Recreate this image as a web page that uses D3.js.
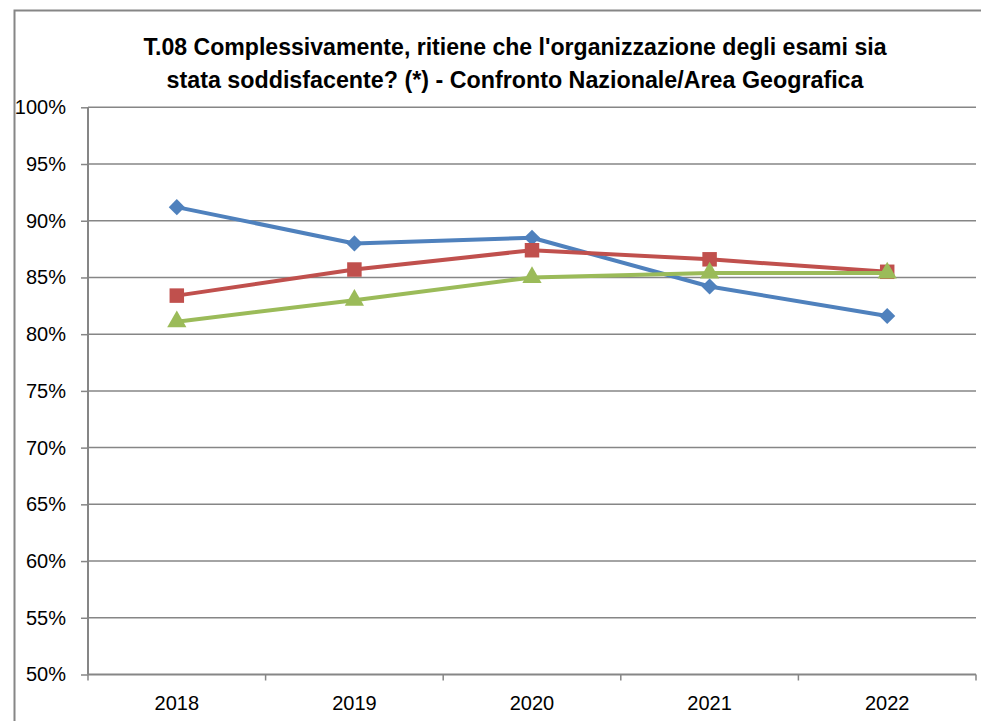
<!DOCTYPE html>
<html>
<head>
<meta charset="utf-8">
<script src="https://cdn.jsdelivr.net/npm/d3@7"></script>
<style>
  body { margin: 0; background: #fff; }
  svg { display: block; }
</style>
</head>
<body>
<svg id="chart"></svg>
<script>
(function(){
    "use strict";

    // data
    var years = ["2018", "2019", "2020", "2021", "2022"];
    var serieBlu   = [91.2, 88.0, 88.5, 84.2, 81.6];
    var serieRossa = [83.4, 85.7, 87.4, 86.6, 85.5];
    var serieVerde = [81.1, 83.0, 85.0, 85.4, 85.4];
    var yTicks = [50, 55, 60, 65, 70, 75, 80, 85, 90, 95, 100];
    var titleLines = [
        "T.08 Complessivamente, ritiene che l'organizzazione degli esami sia",
        "stata soddisfacente? (*) - Confronto Nazionale/Area Geografica"
    ];

    var width = 981,
        height = 721,
        left = 88,
        right = 976,
        top = 107.3,
        bottom = 674.5,
        font = "'Liberation Sans', Arial, sans-serif",
        grey = "#868686";

    var svg = d3.select("svg#chart")
        .attr("width", width)
        .attr("height", height);

    // outer frame (only left and top visible)
    svg.append("path")
        .attr("d", "M14.5," + height + "V10.5H" + width)
        .attr("fill", "none")
        .attr("stroke", grey)
        .attr("stroke-width", 2);

    // title
    var titleLen = [743, 697];
    svg.selectAll("text.title")
        .data(titleLines)
        .enter().append("text")
        .attr("class", "title")
        .attr("x", 515)
        .attr("y", function(d, i) { return 55 + i * 33.3; })
        .attr("text-anchor", "middle")
        .attr("textLength", function(d, i) { return titleLen[i]; })
        .attr("lengthAdjust", "spacingAndGlyphs")
        .style("font-family", font)
        .style("font-weight", "bold")
        .style("font-size", "23px")
        .style("fill", "#000")
        .text(function(d) { return d; });

    var x = d3.scaleBand()
        .domain(years)
        .range([left, right]);

    var y = d3.scaleLinear()
        .domain([50, 100])
        .range([bottom, top]);

    // gridlines
    svg.append("g")
        .selectAll("line")
        .data(yTicks.slice(1))
        .enter().append("line")
        .attr("x1", left)
        .attr("x2", right)
        .attr("y1", function(d) { return y(d); })
        .attr("y2", function(d) { return y(d); })
        .attr("stroke", grey)
        .attr("stroke-width", 1.5);

    // y axis
    var yAxis = svg.append("g")
        .attr("transform", "translate(" + left + ",0)")
        .call(d3.axisLeft(y)
            .tickValues(yTicks)
            .tickSize(7)
            .tickPadding(15)
            .tickFormat(function(d) { return d + "%"; }));

    // x axis
    var xAxis = svg.append("g")
        .attr("transform", "translate(0," + bottom + ")")
        .call(d3.axisBottom(x).tickSize(0).tickPadding(0));

    // tick marks between categories
    xAxis.selectAll("line.sep")
        .data(d3.range(years.length + 1))
        .enter().append("line")
        .attr("class", "sep")
        .attr("x1", function(i) { return left + i * x.step(); })
        .attr("x2", function(i) { return left + i * x.step(); })
        .attr("y1", 0)
        .attr("y2", 6)
        .attr("stroke", grey)
        .attr("stroke-width", 1.5);

    [yAxis, xAxis].forEach(function(ax) {
        ax.select(".domain").attr("stroke", grey).attr("stroke-width", 2);
        ax.selectAll(".tick line").attr("stroke", grey).attr("stroke-width", 1.5);
        ax.selectAll(".tick text")
            .style("font-family", font)
            .style("font-size", "20px")
            .style("fill", "#000");
    });
    yAxis.select(".domain").attr("d", "M0," + top + "V" + bottom);
    xAxis.select(".domain").attr("d", "M" + left + ",0H" + right);
    xAxis.selectAll(".tick text").attr("y", 35).attr("dy", 0);

    // series
    var series = [
        {name: "blu", values: serieBlu, color: "#4F81BD", symbol: d3.symbolSquare, size: 130, rotate: 45},
        {name: "rossa", values: serieRossa, color: "#C0504D", symbol: d3.symbolSquare, size: 210, rotate: 0},
        {name: "verde", values: serieVerde, color: "#9BBB59", symbol: d3.symbolTriangle, size: 160, rotate: 0}
    ];

    var line = d3.line()
        .x(function(d, i) { return x(years[i]) + x.bandwidth() / 2; })
        .y(function(d) { return y(d); });

    var g = svg.selectAll("g.serie")
        .data(series)
        .enter().append("g")
        .attr("class", "serie");

    g.append("path")
        .attr("d", function(d) { return line(d.values); })
        .attr("fill", "none")
        .attr("stroke", function(d) { return d.color; })
        .attr("stroke-width", 4)
        .attr("stroke-linejoin", "round");

    g.each(function(s) {
        d3.select(this).selectAll("path.mark")
            .data(s.values)
            .enter().append("path")
            .attr("class", "mark")
            .attr("transform", function(d, i) {
                return "translate(" + (x(years[i]) + x.bandwidth() / 2) + "," + y(d) + ") rotate(" + s.rotate + ")";
            })
            .attr("d", d3.symbol().type(s.symbol).size(s.size))
            .attr("fill", s.color);
    });
})();
</script>
</body>
</html>
